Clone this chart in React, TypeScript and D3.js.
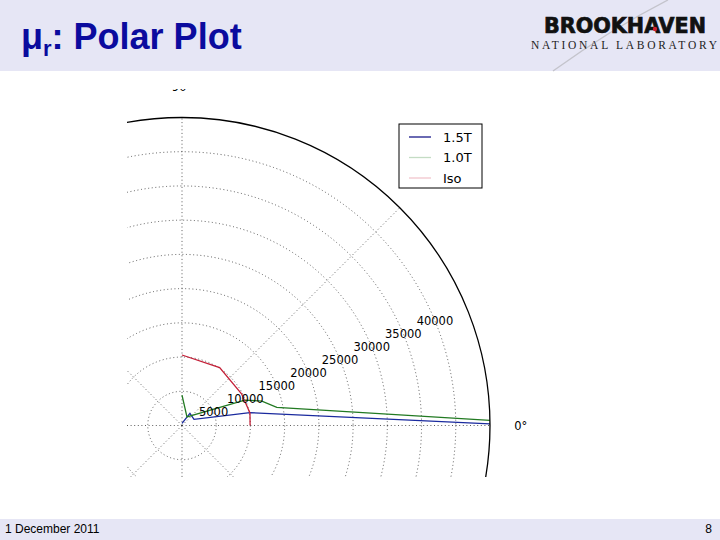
import React from "react";
import * as d3 from "d3";

// ---------- data ----------
const seriesNames = ["1.5T", "1.0T", "Iso"];
const seriesColors = ["#1a2a9e", "#227a22", "#c42038"];
const legendColors = ["#1a1a8a", "#c4dcc4", "#f2c4cc"];

// angle (deg) / relative permeability pairs
const angles15T = [0, 10.7, 27, 57, 90];
const values15T = [50000, 10100, 1970, 2130, 300];

const angles10T = [0, 10.8, 17, 22, 60, 90];
const values10T = [57000, 14100, 12200, 9900, 1450, 4450];

const anglesIso = [0, 10.5, 28, 57, 90];
const valuesIso = [9950, 10100, 9850, 10100, 10300];

const rTicks = [5000, 10000, 15000, 20000, 25000, 30000, 35000, 40000];
const rMax = 45000;
const thetaGrid = [0, 45, 90, 135, 180, 225, 270, 315];
const thetaLabelAngles = [0, 90];
const rLabelAngle = 22.5;

const W = 720;
const H = 540;
const cx = 182;
const cy = 425.5;
const R = 308;

export default function App() {
  const r = d3.scaleLinear().domain([0, rMax]).range([0, R]);
  const rad = (deg: number) => (deg * Math.PI) / 180;

  const series = [
    { a: angles15T, v: values15T },
    { a: angles10T, v: values10T },
    { a: anglesIso, v: valuesIso },
  ];

  const line = d3
    .lineRadial<[number, number]>()
    .angle((d) => Math.PI / 2 - rad(d[0]))
    .radius((d) => r(d[1]));

  const px = (deg: number, rr: number) => rr * Math.cos(rad(deg));
  const py = (deg: number, rr: number) => -rr * Math.sin(rad(deg));

  const gridStyle = {
    stroke: "#333",
    strokeWidth: 0.8,
    strokeDasharray: "1,2.6",
    fill: "none",
  };

  return (
    <svg
      width={W}
      height={H}
      viewBox={`0 0 ${W} ${H}`}
      style={{ position: "absolute", left: 0, top: 0, background: "#fff" }}
    >
      <defs>
        <clipPath id="plotRect">
          <rect x={127} y={89} width={W - 127} height={477 - 89} />
        </clipPath>
        <clipPath id="disk">
          <circle cx={0} cy={0} r={R} />
        </clipPath>
      </defs>

      {/* header band */}
      <rect x={0} y={0} width={W} height={71} fill="#e6e6f5" />
      <text
        x={21}
        y={49}
        fontFamily="Liberation Sans, Arial, sans-serif"
        fontWeight="bold"
        fontSize={36}
        fill="#0b0b9e"
      >
        μ
        <tspan fontSize={22} dy={7}>
          r
        </tspan>
        <tspan dy={-7}>: Polar Plot</tspan>
      </text>

      {/* logo */}
      <path
        d="M553,71 C585,48 625,22 668,0"
        stroke="#c4c4cc"
        strokeWidth={1.4}
        fill="none"
      />
      <text
        x={544}
        y={33}
        fontFamily="DejaVu Sans Condensed, DejaVu Sans, sans-serif"
        fontWeight="bold"
        fontSize={22}
        textLength={162}
        lengthAdjust="spacingAndGlyphs"
        fill="#111"
        stroke="#111"
        strokeWidth={0.7}
      >
        BROOKHAVEN
      </text>
      <circle cx={655} cy={29} r={2.2} fill="#d02030" />
      <text
        x={531}
        y={48.5}
        fontFamily="Liberation Serif, DejaVu Serif, serif"
        fontSize={11.5}
        textLength={186}
        lengthAdjust="spacing"
        fill="#222"
      >
        NATIONAL LABORATORY
      </text>

      {/* polar plot */}
      <g clipPath="url(#plotRect)">
        <g transform={`translate(${cx},${cy})`}>
          {rTicks.map((t) => (
            <circle key={t} r={r(t)} {...gridStyle} />
          ))}
          {thetaGrid.map((deg) => (
            <line
              key={deg}
              x1={0}
              y1={0}
              x2={px(deg, R)}
              y2={py(deg, R)}
              {...gridStyle}
            />
          ))}
          <g clipPath="url(#disk)">
            {series.map((s, i) => (
              <path
                key={seriesNames[i]}
                d={line(s.a.map((a, j) => [a, s.v[j]] as [number, number])) || ""}
                stroke={seriesColors[i]}
                strokeWidth={1.3}
                fill="none"
              />
            ))}
          </g>
          <circle r={r(rMax)} fill="none" stroke="#000" strokeWidth={1.3} />
          {rTicks.map((t) => (
            <text
              key={"l" + t}
              x={px(rLabelAngle, r(t))}
              y={py(rLabelAngle, r(t))}
              textAnchor="middle"
              dominantBaseline="central"
              fontFamily="DejaVu Sans, sans-serif"
              fontSize={11.5}
              fill="#000"
            >
              {t}
            </text>
          ))}
          {thetaLabelAngles.map((deg) => (
            <text
              key={"t" + deg}
              x={px(deg, R * 1.1)}
              y={py(deg, R * 1.1)}
              textAnchor="middle"
              dominantBaseline="central"
              fontFamily="DejaVu Sans, sans-serif"
              fontSize={11.5}
              fill="#000"
            >
              {deg + "°"}
            </text>
          ))}
        </g>
      </g>

      {/* legend */}
      <g transform="translate(399,124)">
        <rect x={0} y={0} width={83} height={64} fill="#fff" stroke="#000" strokeWidth={1} />
        {seriesNames.map((n, i) => (
          <g key={n} transform={`translate(0,${13 + i * 20.5})`}>
            <line x1={10} x2={32} y1={0} y2={0} stroke={legendColors[i]} strokeWidth={1.3} />
            <text
              x={44}
              y={0}
              dominantBaseline="central"
              fontFamily="DejaVu Sans, sans-serif"
              fontSize={13}
              fill="#000"
            >
              {n}
            </text>
          </g>
        ))}
      </g>

      {/* footer band */}
      <rect x={0} y={519} width={W} height={H - 519} fill="#e6e6f5" />
      <text x={5} y={533} fontFamily="Liberation Sans, Arial, sans-serif" fontSize={12} fill="#000">
        1 December 2011
      </text>
      <text
        x={712}
        y={533}
        textAnchor="end"
        fontFamily="Liberation Sans, Arial, sans-serif"
        fontSize={12}
        fill="#000"
      >
        8
      </text>
    </svg>
  );
}
